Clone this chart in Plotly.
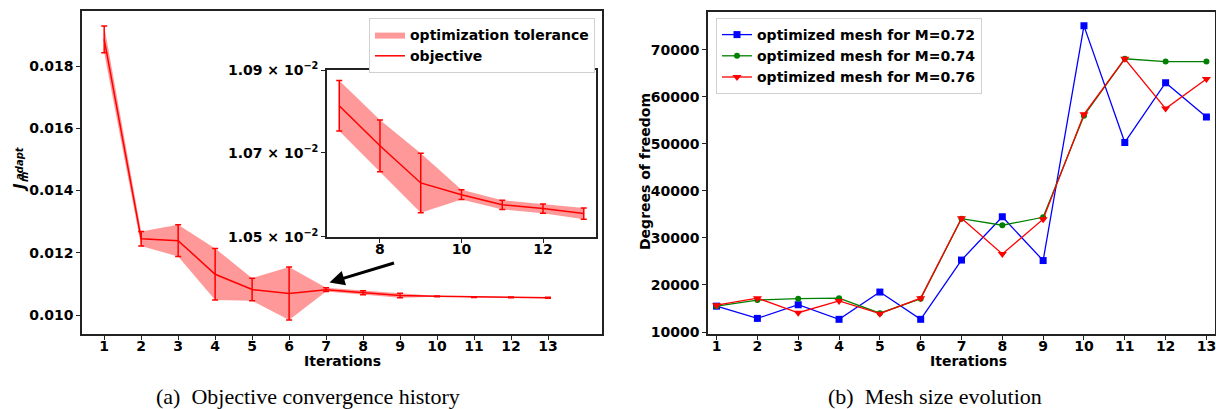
import math
import plotly.graph_objects as go

# ---------------- data ----------------
iterations = list(range(1, 14))
objective = [0.01886, 0.01245, 0.01239, 0.01131, 0.01082, 0.01069, 0.010814,
             0.010717, 0.010628, 0.010600, 0.010576, 0.010567, 0.010555]
tolerance = [0.00043, 0.00023, 0.00051, 0.00083, 0.000365, 0.00085, 0.0000615,
             0.000062, 0.000071, 0.0000115, 0.000011, 0.000011, 0.0000135]
inset_start = 6  # index of iteration 7

mesh_m072 = [15500, 12900, 15800, 12700, 18500, 12700, 25300, 34500, 25200, 75100, 50300, 63000, 55700]
mesh_m074 = [15500, 16800, 17100, 17200, 14000, 17100, 34100, 32700, 34400, 56000, 68100, 67500, 67500]
mesh_m076 = [15700, 17200, 14100, 16600, 13900, 17200, 34200, 26600, 34000, 56300, 68100, 57500, 63800]

left_yticks = [0.010, 0.012, 0.014, 0.016, 0.018]
inset_yticks = [0.0105, 0.0107, 0.0109]
inset_yticklabels = ["1.05 × 10<sup>−2</sup>", "1.07 × 10<sup>−2</sup>", "1.09 × 10<sup>−2</sup>"]
right_yticks = [10000, 20000, 30000, 40000, 50000, 60000, 70000]

W, H = 1216, 409
def px(x):
    return x / W
def py(y):
    return 1 - y / H

FONT = "DejaVu Sans"
RED = "rgb(255,0,0)"
BAND = "rgba(255,0,0,0.4)"

fig = go.Figure()

upper = [v + t for v, t in zip(objective, tolerance)]
lower = [v - t for v, t in zip(objective, tolerance)]

# main left panel
fig.add_trace(go.Scatter(x=iterations, y=lower, mode="lines", line=dict(width=0, color=BAND),
                         showlegend=False, hoverinfo="skip", xaxis="x", yaxis="y"))
fig.add_trace(go.Scatter(x=iterations, y=upper, mode="lines", line=dict(width=0, color=BAND),
                         fill="tonexty", fillcolor=BAND, name="optimization tolerance",
                         legend="legend", legendrank=1, xaxis="x", yaxis="y"))
fig.add_trace(go.Scatter(x=iterations, y=objective, mode="lines", line=dict(color=RED, width=1.5),
                         error_y=dict(type="data", array=tolerance, color=RED, thickness=1.5, width=3),
                         name="objective", legend="legend", legendrank=2, xaxis="x", yaxis="y"))

# inset
ins_x = iterations[inset_start:]
fig.add_trace(go.Scatter(x=ins_x, y=lower[inset_start:], mode="lines", line=dict(width=0, color=BAND),
                         showlegend=False, hoverinfo="skip", xaxis="x3", yaxis="y3"))
fig.add_trace(go.Scatter(x=ins_x, y=upper[inset_start:], mode="lines", line=dict(width=0, color=BAND),
                         fill="tonexty", fillcolor=BAND, showlegend=False, xaxis="x3", yaxis="y3"))
fig.add_trace(go.Scatter(x=ins_x, y=objective[inset_start:], mode="lines", line=dict(color=RED, width=1.5),
                         error_y=dict(type="data", array=tolerance[inset_start:], color=RED, thickness=1.5, width=3),
                         showlegend=False, xaxis="x3", yaxis="y3"))

# right panel
fig.add_trace(go.Scatter(x=iterations, y=mesh_m072, mode="lines+markers", name="optimized mesh for M=0.72",
                         line=dict(color="blue", width=1.3), marker=dict(symbol="square", size=7, color="blue"),
                         legend="legend2", legendrank=1, xaxis="x2", yaxis="y2"))
fig.add_trace(go.Scatter(x=iterations, y=mesh_m074, mode="lines+markers", name="optimized mesh for M=0.74",
                         line=dict(color="green", width=1.3), marker=dict(symbol="circle", size=6, color="green"),
                         legend="legend2", legendrank=2, xaxis="x2", yaxis="y2"))
fig.add_trace(go.Scatter(x=iterations, y=mesh_m076, mode="lines+markers", name="optimized mesh for M=0.76",
                         line=dict(color="red", width=1.3), marker=dict(symbol="triangle-down", size=8, color="red"),
                         legend="legend2", legendrank=3, xaxis="x2", yaxis="y2"))

tickfont = dict(family=FONT, size=14, color="black", weight="bold")
axis_common = dict(showgrid=False, zeroline=False, showline=True, mirror=True, linecolor="#222",
                   linewidth=1.5, ticks="outside", ticklen=4, tickwidth=1, tickcolor="#222",
                   tickfont=tickfont, automargin=False, ticklabeloverflow="allow")
xaxis_extra = dict(ticklabelstandoff=-6)

legend_font = dict(family=FONT, size=14, color="black", weight="bold")
fig.update_layout(
    width=W, height=H, margin=dict(l=0, r=0, t=0, b=0, pad=0, autoexpand=False),
    paper_bgcolor="white", plot_bgcolor="white",
    xaxis=dict(domain=[px(82), px(602)], anchor="y", range=[0.4, 14.46],
               tickvals=iterations, **axis_common, **xaxis_extra),
    yaxis=dict(domain=[py(334), py(11)], anchor="x", range=[0.00939, 0.01977],
               tickvals=left_yticks, ticktext=[f"{v:.3f}" for v in left_yticks], **axis_common),
    xaxis2=dict(domain=[px(708), px(1215)], anchor="y2", range=[0.79, 13.21],
                tickvals=iterations, **axis_common, **xaxis_extra),
    yaxis2=dict(domain=[py(334), py(11.5)], anchor="x2", range=[9580, 78150],
                tickvals=right_yticks, ticktext=[str(v) for v in right_yticks], **axis_common),
    xaxis3=dict(domain=[px(327), px(596)], anchor="y3", range=[6.7, 13.3],
                tickvals=[8, 10, 12], **axis_common, **xaxis_extra),
    yaxis3=dict(domain=[py(237.3), py(70)], anchor="x3", type="log",
                range=[math.log10(0.010499), math.log10(0.010901)],
                tickvals=inset_yticks, ticktext=inset_yticklabels, **axis_common),
    legend=dict(x=px(595), y=py(18), xanchor="right", yanchor="top", bgcolor="white",
                bordercolor="#d0d0d0", borderwidth=1, font=legend_font,
                traceorder="normal", tracegroupgap=0),
    legend2=dict(x=px(716), y=py(18), xanchor="left", yanchor="top", bgcolor="white",
                 bordercolor="#d0d0d0", borderwidth=1, font=legend_font,
                 traceorder="normal", tracegroupgap=0),
)

ann_font = dict(family=FONT, size=14, color="black", weight="bold")
def ann(text, x, y, font, angle=0):
    return dict(text=text, x=px(x), y=py(y), xref="paper", yref="paper", showarrow=False,
                xanchor="center", yanchor="middle", textangle=angle, font=font)

annotations = [
    ann("Iterations", 342, 361, ann_font),
    ann("Iterations", 968, 361, ann_font),
    ann("Degrees of freedom", 645, 172, ann_font, -90),
    ann("<i>J</i>", 20, 188, dict(family=FONT, size=15, color="black", weight="bold"), -90),
    ann("<i>m</i>", 24, 177, dict(family=FONT, size=10, color="black", weight="bold"), -90),
    ann("<i>adapt</i>", 19, 163, dict(family=FONT, size=10, color="black", weight="bold"), -90),
    dict(text="", x=px(329.5), y=py(282.5), xref="paper", yref="paper", showarrow=True,
         ax=66, ay=-20, arrowhead=2, arrowsize=1, arrowwidth=3, arrowcolor="black"),
    ann("(a)  Objective convergence history", 308, 396,
        dict(family="Liberation Serif", size=22, color="black")),
    ann("(b)  Mesh size evolution", 935, 396,
        dict(family="Liberation Serif", size=22, color="black")),
]
fig.update_layout(annotations=annotations)

fig.write_html("out.html")
